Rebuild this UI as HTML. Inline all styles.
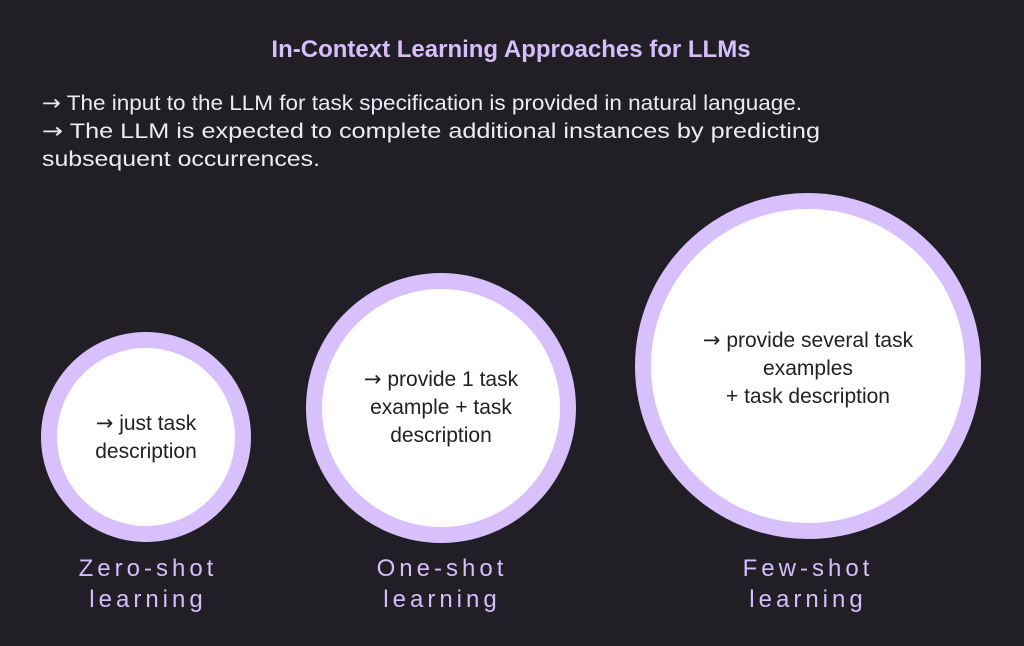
<!DOCTYPE html>
<html><head><style>
html,body{margin:0;padding:0;background:#211f25;}
svg{display:block}
.a{font-family:"DejaVu Sans",sans-serif;}
</style></head><body>
<svg width="1024" height="646" viewBox="0 0 1024 646" xmlns="http://www.w3.org/2000/svg">
<rect width="1024" height="646" fill="#211f25"/>
<text x="511" y="57" text-anchor="middle" font-family="Liberation Sans, sans-serif" font-weight="bold" font-size="24" fill="#d6bdfc">In-Context Learning Approaches for LLMs</text>
<g font-family="Liberation Sans, sans-serif" font-size="21" fill="#eeeaf2">
<text x="42" y="110" textLength="760" lengthAdjust="spacingAndGlyphs"><tspan class="a">→</tspan> The input to the LLM for task specification is provided in natural language.</text>
<text x="42" y="138" textLength="778" lengthAdjust="spacingAndGlyphs"><tspan class="a">→</tspan> The LLM is expected to complete additional instances by predicting</text>
<text x="42" y="166" textLength="278" lengthAdjust="spacingAndGlyphs">subsequent occurrences.</text>
</g>
<circle cx="146" cy="437" r="97" fill="#fff" stroke="#d8c0fd" stroke-width="16"/>
<circle cx="441" cy="408" r="127" fill="#fff" stroke="#d8c0fd" stroke-width="16"/>
<circle cx="808" cy="366" r="165" fill="#fff" stroke="#d8c0fd" stroke-width="16"/>
<g font-family="Liberation Sans, sans-serif" font-size="21" fill="#222" text-anchor="middle">
<text x="146" y="430"><tspan class="a">→</tspan> just task</text>
<text x="146" y="458">description</text>
<text x="441" y="386"><tspan class="a">→</tspan> provide 1 task</text>
<text x="441" y="414">example + task</text>
<text x="441" y="442">description</text>
<text x="808" y="347"><tspan class="a">→</tspan> provide several task</text>
<text x="808" y="375">examples</text>
<text x="808" y="403">+ task description</text>
</g>
<g font-family="Liberation Sans, sans-serif" font-size="24" fill="#d6bdfc" text-anchor="middle" letter-spacing="4">
<text x="148" y="576">Zero-shot</text>
<text x="148" y="607">learning</text>
<text x="442" y="576">One-shot</text>
<text x="442" y="607">learning</text>
<text x="808" y="576">Few-shot</text>
<text x="808" y="607">learning</text>
</g>
</svg>
</body></html>
